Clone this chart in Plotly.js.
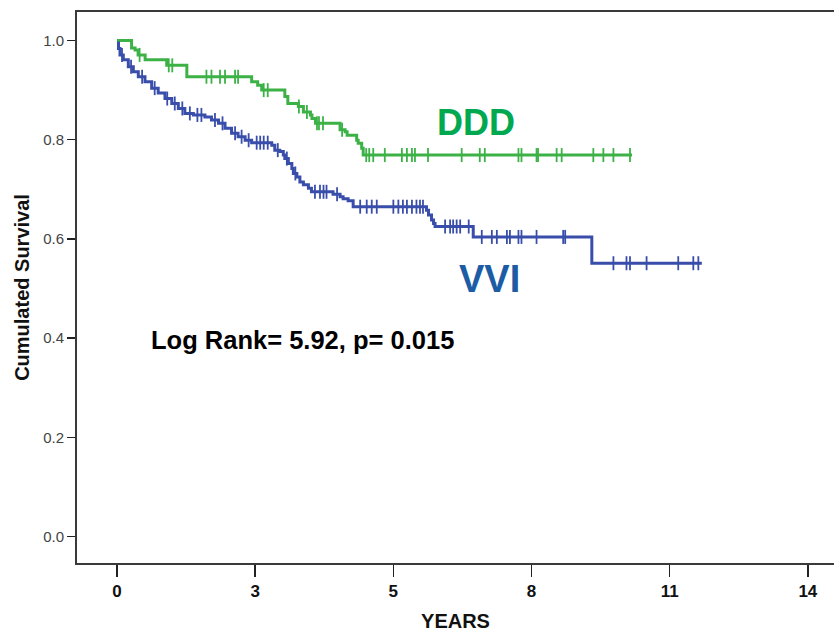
<!DOCTYPE html>
<html>
<head>
<meta charset="utf-8">
<script src="https://cdn.plot.ly/plotly-3.0.1.min.js"></script>
<style>html,body{margin:0;padding:0;background:#fff;}#chart{width:834px;height:632px;}</style>
</head>
<body>
<div id="chart"></div>
<script>
// x values are in axis units where the labelled ticks sit every 2.75 units
const tickVals = [0, 2.75, 5.5, 8.25, 11, 13.75];
const tickText = ["0", "3", "5", "8", "11", "14"];
const yTicks = [0, 0.2, 0.4, 0.6, 0.8, 1.0];
const yTickText = ["0.0", "0.2", "0.4", "0.6", "0.8", "1.0"];

// DDD survival steps (time of event, survival after event)
const dddTime = [0, 0.29, 0.36, 0.42, 0.56, 0.99, 1.39, 2.68, 2.80, 2.88, 3.34, 3.40, 3.61, 3.71, 3.85, 3.88, 3.95, 4.44, 4.54, 4.58, 4.77, 4.80, 4.87, 4.90, 10.25];
const dddSurv = [1.0, 0.985, 0.981, 0.971, 0.961, 0.950, 0.927, 0.917, 0.910, 0.900, 0.887, 0.873, 0.867, 0.856, 0.850, 0.843, 0.833, 0.820, 0.816, 0.809, 0.799, 0.793, 0.783, 0.769, 0.769];
const dddCensored = [0.45, 1.03, 1.10, 1.78, 1.88, 2.05, 2.15, 2.35, 2.41, 2.92, 3.0, 3.62, 3.78, 3.98, 4.02, 4.10, 4.48, 4.96, 5.02, 5.10, 5.33, 5.67, 5.77, 5.87, 5.93, 6.19, 6.86, 7.22, 7.32, 7.99, 8.05, 8.35, 8.38, 8.75, 8.85, 9.48, 9.68, 9.88, 10.21];

// VVI survival steps
const vviTime = [0, 0.03, 0.06, 0.125, 0.225, 0.325, 0.424, 0.557, 0.69, 0.82, 0.955, 1.09, 1.22, 1.35, 1.52, 1.75, 1.88, 2.02, 2.15, 2.28, 2.41, 2.55, 2.68, 3.08, 3.14, 3.24, 3.31, 3.34, 3.41, 3.48, 3.51, 3.58, 3.64, 3.71, 3.81, 3.87, 4.30, 4.44, 4.50, 4.60, 4.70, 6.16, 6.20, 6.26, 6.30, 6.33, 7.09, 9.45, 11.64];
const vviSurv = [0.995, 0.984, 0.971, 0.961, 0.947, 0.937, 0.927, 0.917, 0.904, 0.894, 0.883, 0.873, 0.863, 0.853, 0.850, 0.846, 0.840, 0.833, 0.823, 0.813, 0.806, 0.799, 0.794, 0.789, 0.779, 0.776, 0.769, 0.762, 0.752, 0.742, 0.732, 0.725, 0.715, 0.709, 0.702, 0.695, 0.690, 0.685, 0.681, 0.677, 0.665, 0.658, 0.648, 0.638, 0.631, 0.625, 0.604, 0.551, 0.551];
const vviCensored = [0.10, 0.28, 0.50, 0.75, 1.0, 1.15, 1.30, 1.45, 1.60, 1.68, 1.95, 2.10, 2.35, 2.48, 2.62, 2.78, 2.85, 2.92, 3.0, 3.20, 3.38, 3.55, 3.94, 4.04, 4.11, 4.17, 4.38, 4.84, 4.97, 5.07, 5.17, 5.50, 5.60, 5.69, 5.77, 5.87, 5.96, 6.03, 6.09, 6.53, 6.63, 6.69, 6.76, 6.83, 7.0, 7.26, 7.46, 7.56, 7.76, 7.82, 7.99, 8.05, 8.35, 8.88, 8.92, 9.88, 10.14, 10.21, 10.54, 11.17, 11.47, 11.57];

const statText = "Log Rank= 5.92, p= 0.015";

function stepAt(times, surv, t) {
  let s = surv[0];
  for (let i = 0; i < times.length; i++) { if (times[i] <= t) s = surv[i]; }
  return s;
}

const green = "rgb(60,178,70)";
const blue = "rgb(57,78,170)";

const traces = [
  {x: dddTime, y: dddSurv, mode: "lines", line: {shape: "hv", color: green, width: 3}, name: "DDD"},
  {x: dddCensored, y: dddCensored.map(t => stepAt(dddTime, dddSurv, t)), mode: "markers",
   marker: {symbol: "line-ns-open", size: 10, color: green, line: {color: green, width: 1.8}}, name: "DDD censored"},
  {x: vviTime, y: vviSurv, mode: "lines", line: {shape: "hv", color: blue, width: 3}, name: "VVI"},
  {x: vviCensored, y: vviCensored.map(t => stepAt(vviTime, vviSurv, t)), mode: "markers",
   marker: {symbol: "line-ns-open", size: 10, color: blue, line: {color: blue, width: 1.8}}, name: "VVI censored"}
];

const layout = {
  width: 834, height: 632,
  margin: {l: 77, r: 0, t: 12, b: 69},
  paper_bgcolor: "#fff", plot_bgcolor: "#fff",
  showlegend: false,
  font: {family: "Liberation Sans, Arial, sans-serif", color: "#000"},
  xaxis: {
    range: [-0.796, 14.27], tickvals: tickVals, ticktext: tickText,
    showgrid: false, zeroline: false, showline: true, mirror: true,
    linecolor: "#3a3a3a", linewidth: 2,
    ticks: "outside", ticklen: 12, tickwidth: 1.5, tickcolor: "#222",
    tickfont: {family: "Liberation Sans, Arial", size: 17, color: "#111", weight: "bold"},
    title: {text: "YEARS", standoff: 21, font: {family: "Liberation Sans, Arial", size: 20, color: "#111", weight: "bold"}},
    automargin: false
  },
  yaxis: {
    range: [-0.0534, 1.0575], tickvals: yTicks, ticktext: yTickText,
    showgrid: false, zeroline: false, showline: true, mirror: false,
    linecolor: "#3a3a3a", linewidth: 2,
    ticks: "outside", ticklen: 8, tickwidth: 1.5, tickcolor: "#222",
    tickfont: {family: "Liberation Sans, Arial", size: 15, color: "#444"},
    title: {text: "Cumulated Survival", standoff: 8, font: {family: "Liberation Sans, Arial", size: 20, color: "#111", weight: "bold"}},
    automargin: false
  },
  annotations: [
    {x: 7.14, y: 0.834, xref: "x", yref: "y", text: "<b>DDD</b>", showarrow: false,
     font: {family: "Liberation Sans, Arial", size: 36, color: "rgb(0,168,80)"}},
    {x: 7.42, y: 0.52, xref: "x", yref: "y", text: "<b>VVI</b>", showarrow: false,
     font: {family: "Liberation Sans, Arial", size: 38, color: "rgb(28,92,165)"}},
    {x: 0.64, y: 0.396, xref: "x", yref: "y", xanchor: "left", text: "<b>" + statText + "</b>", showarrow: false,
     font: {family: "Liberation Sans, Arial", size: 25.5, color: "#000"}}
  ]
};

Plotly.newPlot("chart", traces, layout, {displayModeBar: false, staticPlot: true});
</script>
</body>
</html>
